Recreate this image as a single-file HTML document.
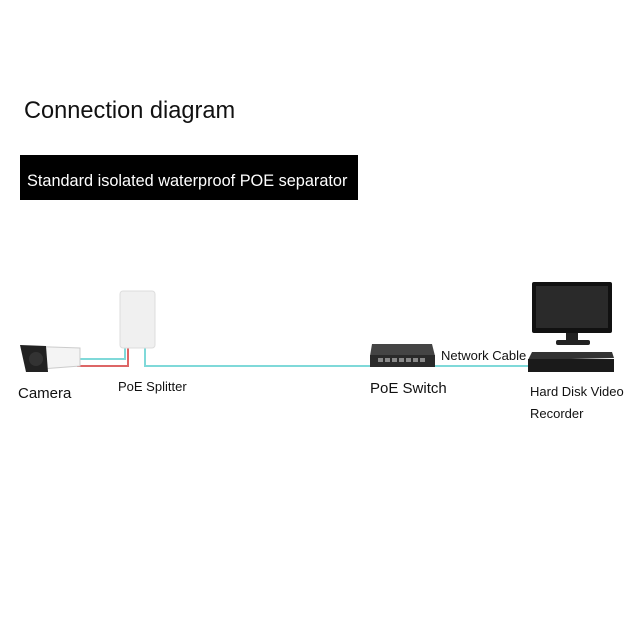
<!DOCTYPE html>
<html><head><style>body{margin:0;background:#fff}svg{display:block}</style></head><body>
<svg width="640" height="640" viewBox="0 0 640 640" xmlns="http://www.w3.org/2000/svg" font-family="Liberation Sans, sans-serif">
<rect width="640" height="640" fill="#fff"/>
<text x="24" y="118" font-size="23.6" fill="#111">Connection diagram</text>
<rect x="20" y="155" width="338" height="45" fill="#000"/>
<text x="27" y="186" font-size="16.3" fill="#fff">Standard isolated waterproof POE separator</text>
<polyline points="78,359 125,359 125,347" fill="none" stroke="#7fd9d9" stroke-width="2"/>
<polyline points="77,366 128,366 128,347" fill="none" stroke="#d66" stroke-width="2"/>
<polyline points="145,347 145,366 370,366" fill="none" stroke="#7fd9d9" stroke-width="2"/>
<line x1="434" y1="366" x2="530" y2="366" stroke="#7fd9d9" stroke-width="2"/>
<path d="M22,346 L80,348 L80,366 L28,370 Z" fill="#f4f4f4" stroke="#ccc"/>
<path d="M20,345 L46,346 L48,372 L26,372 Z" fill="#222"/>
<circle cx="36" cy="359" r="7" fill="#333"/>
<rect x="120" y="291" width="35" height="57" rx="3" fill="#f0f0f0" stroke="#ddd"/>
<path d="M372,344 L432,344 L435,356 L370,356 Z" fill="#444"/>
<rect x="370" y="355" width="65" height="12" fill="#2a2a2a"/>
<g fill="#888"><rect x="378" y="358" width="5" height="4"/><rect x="385" y="358" width="5" height="4"/><rect x="392" y="358" width="5" height="4"/><rect x="399" y="358" width="5" height="4"/><rect x="406" y="358" width="5" height="4"/><rect x="413" y="358" width="5" height="4"/><rect x="420" y="358" width="5" height="4"/></g>
<rect x="532" y="282" width="80" height="51" rx="2" fill="#111"/>
<rect x="536" y="286" width="72" height="42" fill="#2a2a2a"/>
<rect x="566" y="333" width="12" height="8" fill="#222"/>
<rect x="556" y="340" width="34" height="5" rx="2" fill="#222"/>
<path d="M532,352 L612,352 L614,358 L528,360 Z" fill="#333"/>
<rect x="528" y="359" width="86" height="13" fill="#1a1a1a"/>
<text x="18" y="398" font-size="15" fill="#111">Camera</text>
<text x="118" y="391" font-size="13" fill="#111">PoE Splitter</text>
<text x="370" y="393" font-size="15" fill="#111">PoE Switch</text>
<text x="441" y="360" font-size="13" fill="#111">Network Cable</text>
<text x="530" y="396" font-size="13" fill="#111">Hard Disk Video</text>
<text x="530" y="418" font-size="13" fill="#111">Recorder</text>
</svg>
</body></html>
